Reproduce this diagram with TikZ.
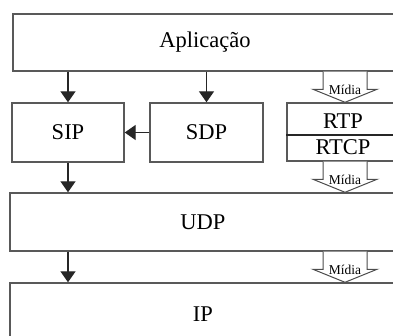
\documentclass[tikz,border=0pt]{standalone}
\usepackage{fontspec}
\setmainfont{Liberation Serif}
\usetikzlibrary{arrows.meta,calc}

\tikzset{
	camada/.style={draw=black!65, line width=1.4pt, rectangle, inner sep=0pt, font=\fontsize{22.5}{24}\selectfont},
	seta/.style={line width=1.4pt, draw=black!85, -{Triangle[width=15pt,length=11pt]}},
	bloco/.style={draw=black!70, line width=1pt, fill=white},
	rotulo/.style={inner sep=0pt, font=\fontsize{13.5}{13.5}\selectfont}
}

% seta larga "Midia": #1 topo, #2 ponta
\newcommand{\midia}[2]{%
	\draw[bloco] ($(#1)+(-22,0)$) -- ($(#2)+(-22,-13)$) -- ($(#2)+(-32,-13)$) -- (#2)
		-- ($(#2)+(32,-13)$) -- ($(#2)+(22,-13)$) -- ($(#1)+(22,0)$);
	\node[rotulo] at ($(#2)+(0,-12)$) {Mídia};%
}

\begin{document}
\begin{tikzpicture}[x=1pt, y=-1pt]
	\clip (0,0) rectangle (393,336);
	\node[camada, minimum width=384, minimum height=57] (app) at (205,42.5) {Aplicação};
	\node[camada, minimum width=112, minimum height=59] (sip) at (68,132.5) {SIP};
	\node[camada, minimum width=113, minimum height=59] (sdp) at (206.5,132.5) {SDP};
	\node[camada, minimum width=113, minimum height=58] (rtp) at (343.5,132) {};
	\node[inner sep=0pt, font=\fontsize{22.5}{24}\selectfont] (rtpt) at (343,121) {RTP};
	\node[inner sep=0pt, font=\fontsize{22.5}{24}\selectfont] (rtcp) at (343,147) {RTCP};
	\draw[draw=black!85, line width=1.4pt] (rtp.west |- 0,135) -- (rtp.east |- 0,135);
	\node[camada, minimum width=386, minimum height=58] (udp) at (203,222) {UDP};
	\node[camada, minimum width=386, minimum height=62] (ip) at (203,314) {IP};

	\draw[seta] (app.south -| sip) -- (sip.north);
	\draw[seta] (app.south -| sdp) -- (sdp.north);
	\draw[seta] (sdp.west) -- (sip.east);
	\draw[seta] (sip.south) -- (udp.north -| sip);
	\draw[seta] (udp.south -| sip) -- (ip.north -| sip);

	\coordinate (m) at (345,0);
	\coordinate (m1) at (app.south -| m);
	\coordinate (m2) at (rtp.north -| m);
	\coordinate (m3) at (rtp.south -| m);
	\coordinate (m4) at (udp.north -| m);
	\coordinate (m5) at (udp.south -| m);
	\coordinate (m6) at (ip.north -| m);
	\midia{m1}{m2}
	\midia{m3}{m4}
	\midia{m5}{m6}
\end{tikzpicture}
\end{document}
